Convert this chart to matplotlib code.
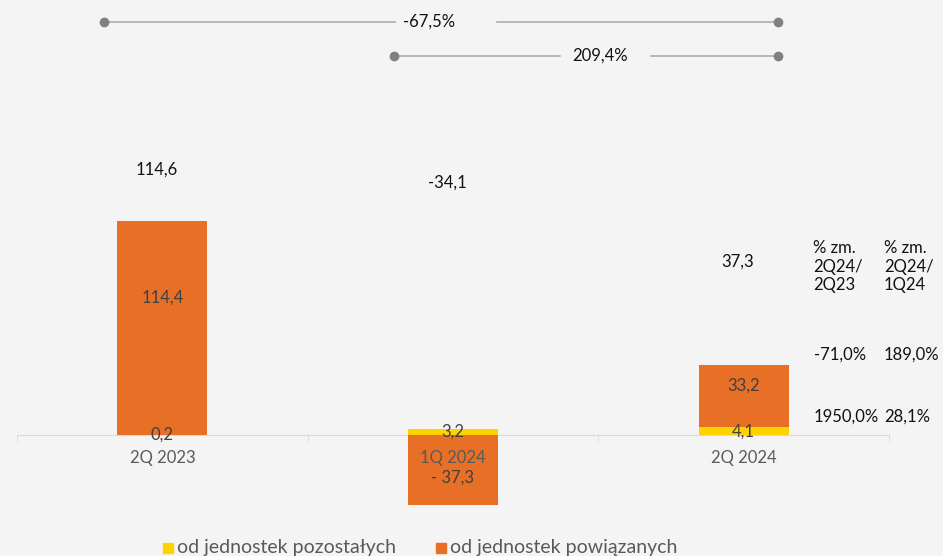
import matplotlib
matplotlib.use("Agg")
import matplotlib.pyplot as plt
from matplotlib.patches import Rectangle
from matplotlib.lines import Line2D

plt.rcParams['font.family'] = ['Lato', 'DejaVu Sans']

categories = ["2Q 2023", "1Q 2024", "2Q 2024"]
series_names = ["od jednostek pozostałych", "od jednostek powiązanych"]
pozostale = [0.2, 3.2, 4.1]
powiazane = [114.4, -37.3, 33.2]
totals = [114.6, -34.1, 37.3]
total_labels = ["114,6", "-34,1", "37,3"]
pozostale_labels = ["0,2", "3,2", "4,1"]
powiazane_labels = ["114,4", "- 37,3", "33,2"]
# label vertical positions (data units)
total_label_y = [142.0, 135.0, 93.0]
powiazane_label_y = [73.4, -23.0, 26.2]
change_labels = ["-67,5%", "209,4%"]
table_headers = ["% zm.\n2Q24/\n2Q23", "% zm.\n2Q24/\n1Q24"]
table_col1 = ["-71,0%", "1950,0%"]
table_col2 = ["189,0%", "28,1%"]

BG = "#f4f4f4"
ORANGE = "#E86F26"
YELLOW = "#FFD300"
GRAY = "#595959"
DARK = "#404040"
BLACK = "#111111"

W, H = 943, 556
fig = plt.figure(figsize=(W / 100, H / 100), dpi=100, facecolor=BG)

def fx(px):
    return px / W

def fy(py):
    return 1 - py / H

ax = fig.add_axes([fx(17), fy(512), fx(889) - fx(17), fy(150) - fy(512)])
ax.set_facecolor(BG)
ax.set_xlim(-0.5, 2.5)
ax.set_ylim(-41.24, 152.65)

x = list(range(len(categories)))
bw = 0.31
# yellow stacks above zero; orange stacked on yellow when positive, below zero when negative
orange_bottom = [p if v >= 0 else 0 for p, v in zip(pozostale, powiazane)]
ax.bar(x, pozostale, width=bw, color=YELLOW, zorder=2)
ax.bar(x, powiazane, width=bw, bottom=orange_bottom, color=ORANGE, zorder=2)

for s in ['top', 'right', 'left']:
    ax.spines[s].set_visible(False)
ax.spines['bottom'].set_position(('data', 0))
ax.spines['bottom'].set_color('#d9d9d9')
ax.spines['bottom'].set_zorder(1)
ax.set_yticks([])
ax.set_xticks([])
ax.set_xticks([-0.5, 0.5, 1.5, 2.5], minor=True)
ax.tick_params(axis='x', which='minor', length=5, color='#d9d9d9', direction='out')

fs = 12
for i in x:
    ax.text(i - 0.02, total_label_y[i], total_labels[i], ha='center', va='center',
            fontsize=fs, color=BLACK, zorder=5)
    ax.text(i, pozostale[i] / 2, pozostale_labels[i], ha='center', va='center',
            fontsize=fs, color=DARK, zorder=5)
    ax.text(i, powiazane_label_y[i], powiazane_labels[i], ha='center', va='center',
            fontsize=fs, color=DARK, zorder=5)
    ax.text(i, -12.3, categories[i], ha='center', va='center',
            fontsize=fs, color=GRAY, zorder=5)

# change brackets
def bracket(x0, x1, y, gap0, gap1, tx, label):
    for a, b in [(x0, gap0), (gap1, x1)]:
        fig.add_artist(Line2D([fx(a), fx(b)], [fy(y), fy(y)], color='#a6a6a6', lw=1.1))
    fig.add_artist(Line2D([fx(x0), fx(x1)], [fy(y), fy(y)], lw=0, marker='o',
                          markersize=6, color='#808080'))
    fig.text(fx(tx), fy(y), label, ha='center', va='center', fontsize=fs, color=BLACK)

bracket(104, 778, 22, 395, 497, 429, change_labels[0])
bracket(394, 778, 56, 560, 651, 600, change_labels[1])

# table
col_x = [813, 884]
for cx, hdr in zip(col_x, table_headers):
    fig.text(fx(cx), fy(240), hdr, ha='left', va='top', fontsize=fs, color=BLACK,
             linespacing=1.2)
row_y = [355, 417]
for ry, v1, v2 in zip(row_y, table_col1, table_col2):
    fig.text(fx(814), fy(ry), v1, ha='left', va='center', fontsize=fs, color=BLACK)
    fig.text(fx(884), fy(ry), v2, ha='left', va='center', fontsize=fs, color=BLACK)

# legend
for lx, name, col in [(163, series_names[0], YELLOW), (436, series_names[1], ORANGE)]:
    fig.add_artist(Rectangle((fx(lx), fy(553)), fx(10), 10 / H, color=col))
    fig.text(fx(lx + 14), fy(547), name, ha='left', va='center', fontsize=14, color=GRAY)

fig.savefig("out.png", dpi=100, facecolor=BG)
